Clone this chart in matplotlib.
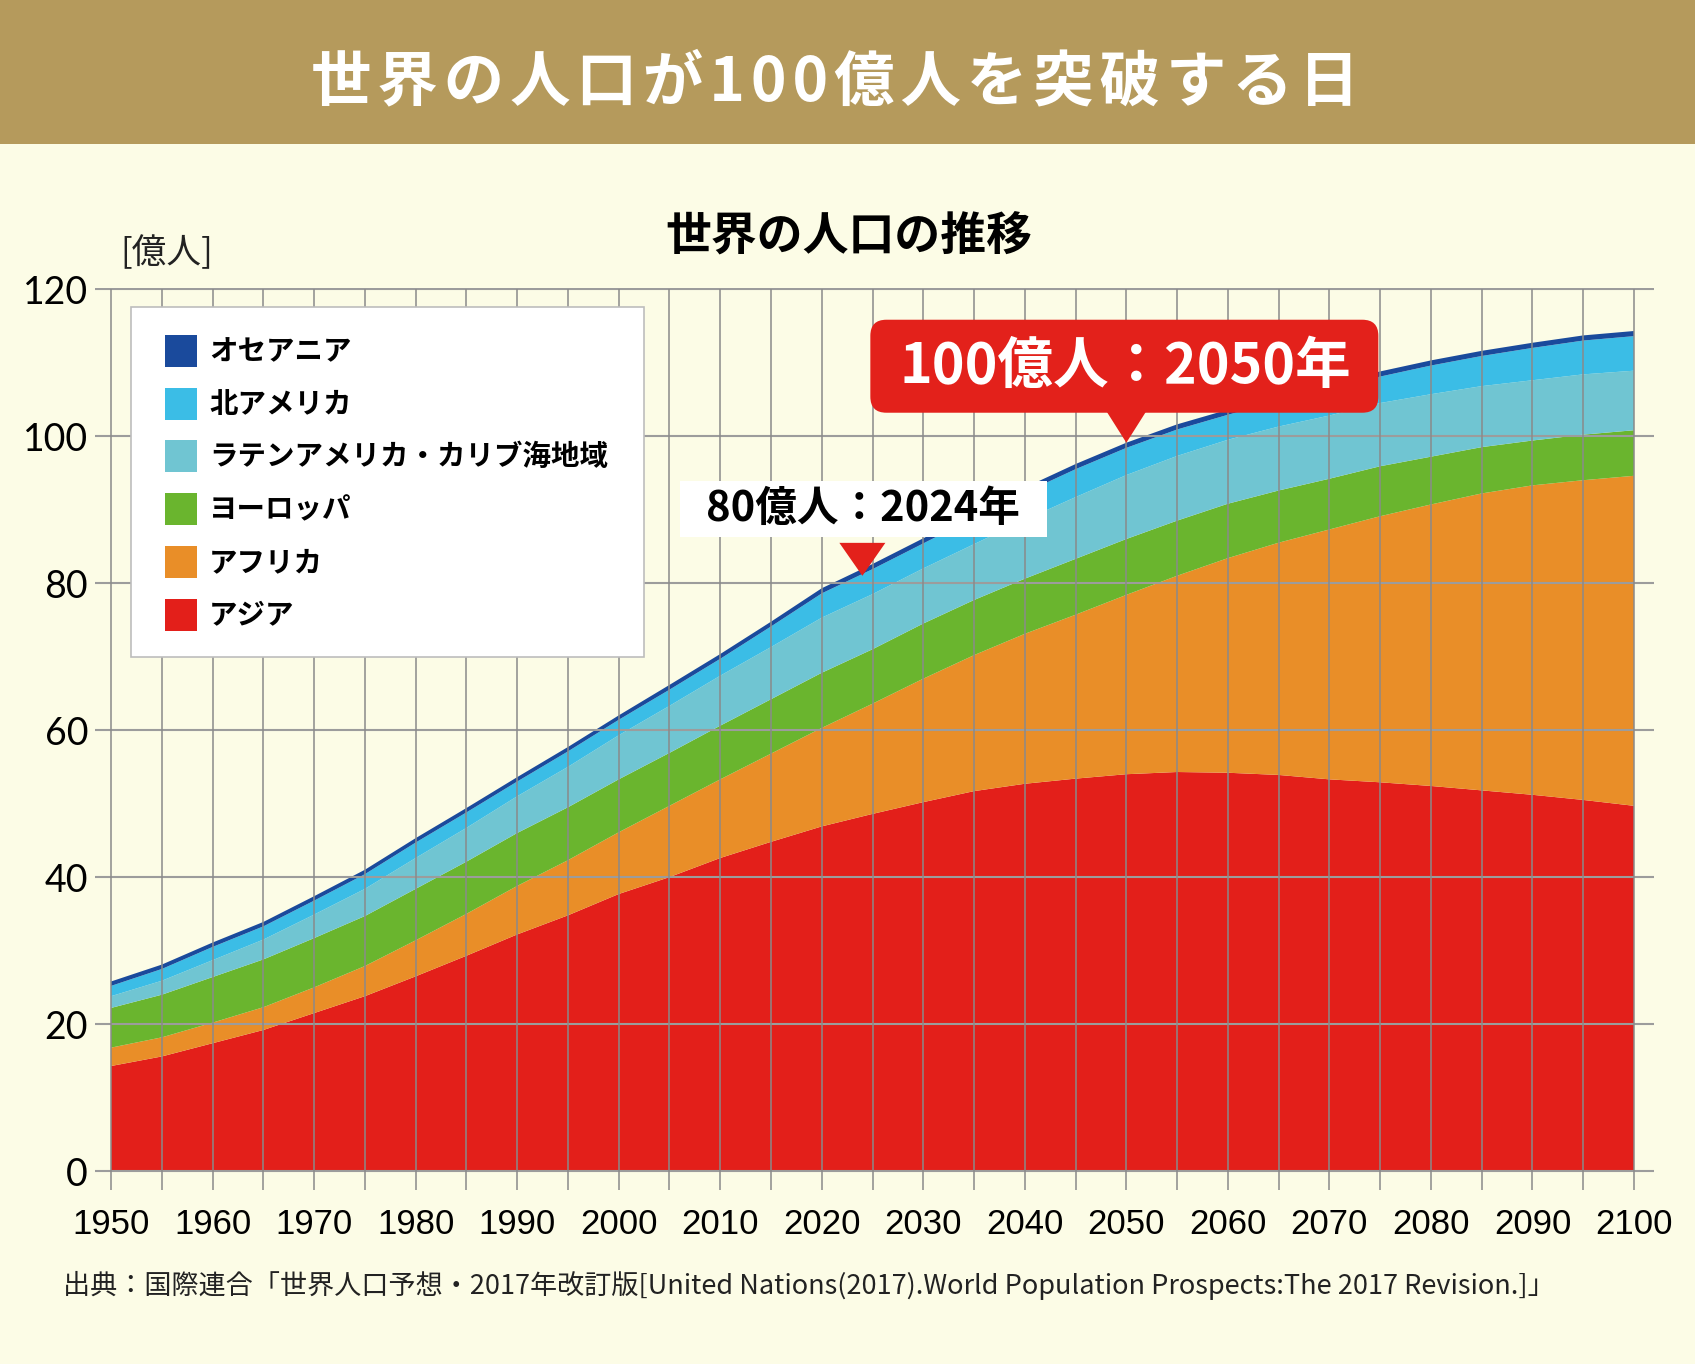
import numpy as np
import matplotlib
matplotlib.use("Agg")
import matplotlib.pyplot as plt
from matplotlib.patches import Rectangle, FancyBboxPatch, Polygon
from matplotlib.transforms import IdentityTransform

plt.rcParams["font.family"] = ["Noto Sans CJK JP", "DejaVu Sans"]

# population by region, 億人, every 5 years 1950-2100
years = np.arange(1950, 2101, 5)
asia = [14.3, 15.6, 17.4, 19.2, 21.5, 23.8, 26.5, 29.3, 32.2, 34.8,
        37.7, 40.0, 42.6, 44.8, 46.9, 48.6, 50.2, 51.7, 52.7, 53.4,
        54.0, 54.3, 54.2, 53.9, 53.3, 52.9, 52.4, 51.8, 51.2, 50.5, 49.7]
africa = [2.5, 2.6, 2.8, 3.1, 3.5, 4.1, 4.9, 5.7, 6.6, 7.5,
          8.4, 9.7, 10.7, 12.0, 13.4, 15.0, 16.8, 18.5, 20.4, 22.3,
          24.4, 26.7, 29.2, 31.6, 34.0, 36.2, 38.3, 40.4, 42.1, 43.5, 44.9]
europe = [5.4, 5.8, 6.2, 6.5, 6.7, 6.8, 7.0, 7.1, 7.2, 7.2,
          7.2, 7.2, 7.3, 7.4, 7.5, 7.4, 7.5, 7.5, 7.5, 7.6,
          7.6, 7.5, 7.4, 7.1, 6.9, 6.8, 6.5, 6.3, 6.1, 6.2, 6.2]
latin_america = [1.6, 1.9, 2.3, 2.7, 3.2, 3.7, 4.2, 4.6, 5.0, 5.5,
                 6.0, 6.4, 6.8, 7.1, 7.5, 7.5, 7.5, 7.6, 8.0, 8.4,
                 8.7, 8.8, 8.7, 8.7, 8.6, 8.6, 8.5, 8.3, 8.2, 8.2, 8.1]
north_america = [1.4, 1.6, 1.8, 1.8, 1.9, 2.0, 2.1, 2.1, 2.0, 2.1,
                 2.1, 2.2, 2.3, 2.8, 3.3, 3.4, 3.4, 3.6, 3.7, 3.8,
                 3.7, 3.6, 3.4, 3.5, 3.6, 3.6, 3.9, 4.1, 4.4, 4.6, 4.7]
oceania = [0.6, 0.6, 0.6, 0.6, 0.6, 0.6, 0.6, 0.6, 0.6, 0.6,
           0.6, 0.65, 0.65, 0.65, 0.7, 0.7, 0.7, 0.7, 0.7, 0.7,
           0.7, 0.7, 0.7, 0.7, 0.7, 0.7, 0.7, 0.7, 0.7, 0.7, 0.7]

regions = ["オセアニア", "北アメリカ", "ラテンアメリカ・カリブ海地域",
           "ヨーロッパ", "アフリカ", "アジア"]
colors = ["#1A4A9C", "#3BBDE6", "#70C5D2", "#6AB52E", "#E98E28", "#E31F1A"]
y_ticks = [0, 20, 40, 60, 80, 100, 120]
x_ticks = np.arange(1950, 2101, 10)
milestone_80 = (2024, "80億人：2024年")
milestone_100 = (2050, "100億人：2050年")
title = "世界の人口が100億人を突破する日"

W, H = 1695, 1364
BG = "#FCFCE6"
RED = "#E3211B"
ID = IdentityTransform()

fig = plt.figure(figsize=(W / 100, H / 100), dpi=100, facecolor=BG)

# header band + titles (hair spaces for the wide letter spacing)
fig.add_artist(Rectangle((0, H - 144), W, 144, transform=ID, fc="#B59A5C", ec="none", zorder=0))
fig.text(835, H - 83, "\u200a".join(title), transform=ID, color="white",
         fontsize=43.5, fontweight="bold", ha="center", va="center")
fig.text(849, H - 238, "世界の人口の推移", transform=ID, fontsize=33,
         fontweight="bold", ha="center", va="center")
fig.text(120, H - 254, "[億人]", transform=ID, fontsize=25, ha="left", va="center", color="#222222")

# plot area
ax = fig.add_axes([95 / W, (H - 1189.5) / H, 1559 / W, 901.5 / H])
ax.set_facecolor("none")
ax.set_xlim(1948.42, 2101.97)
ax.set_ylim(-2.5, 120.15)

ax.stackplot(years, asia, africa, europe, latin_america, north_america, oceania,
             colors=colors[::-1], lw=0, zorder=2)

ax.hlines(y_ticks, 1948.42, 2101.97, color="#9C9C9C", lw=1.5, zorder=3)
ax.vlines(np.arange(1950, 2101, 5), -2.5, 120, color="#8A8A8A", lw=1.1, zorder=3)

for s in ax.spines.values():
    s.set_visible(False)
ax.set_xticks(x_ticks)
ax.set_xticklabels([str(y) for y in x_ticks], fontsize=25,
                   family=["Liberation Sans", "DejaVu Sans"])
ax.set_yticks(y_ticks)
ax.set_yticklabels([str(v) for v in y_ticks], fontsize=27, family=["Lato", "DejaVu Sans"])
ax.tick_params(axis="x", length=0, pad=13)
ax.tick_params(axis="y", length=0, pad=5)

total = np.sum([asia, africa, europe, latin_america, north_america, oceania], axis=0)

# 80億人 callout
yr, label = milestone_80
x0, y0 = ax.transData.transform((yr, np.interp(yr, years, total)))
y0 -= 7
ax.add_patch(Polygon([(x0 - 23, y0 + 33), (x0 + 23, y0 + 33), (x0, y0)], closed=True,
                     fc=RED, ec="none", transform=ID, zorder=6, clip_on=False))
ax.add_patch(Rectangle((x0 - 182, y0 + 39), 367, 56, fc="white", ec="none",
                       transform=ID, zorder=6, clip_on=False))
ax.text(x0 + 1, y0 + 67, label, transform=ID, ha="center", va="center",
        fontsize=30, fontweight="bold", zorder=7)

# 100億人 callout
yr, label = milestone_100
x0, y0 = ax.transData.transform((yr, np.interp(yr, years, total)))
ax.add_patch(FancyBboxPatch((x0 - 242, y0 + 44), 480, 65,
                            boxstyle="round,pad=14,rounding_size=16",
                            fc=RED, ec="none", transform=ID, zorder=6, clip_on=False))
ax.add_patch(Polygon([(x0 - 21.5, y0 + 34), (x0 + 21.5, y0 + 34), (x0, y0)], closed=True,
                     fc=RED, ec="none", transform=ID, zorder=6, clip_on=False))
ax.text(x0 - 1, y0 + 76, label, transform=ID, ha="center", va="center",
        fontsize=40, fontweight="bold", color="white", zorder=7)

# legend
fig.add_artist(Rectangle((131, H - 657), 513, 350, transform=ID, fc="white",
                         ec="#BDBDBD", lw=1.2, zorder=2))
for i, (name, c) in enumerate(zip(regions, colors)):
    top = 335 + 52.7 * i
    fig.add_artist(Rectangle((165, H - top - 32), 31.5, 32, transform=ID,
                             fc=c, ec="none", zorder=3))
    fig.text(209, H - top - 17, name, transform=ID, fontsize=20.5, fontweight="bold",
             ha="left", va="center", zorder=3)

# source
fig.text(63, H - 1285, "出典：国際連合「世界人口予想・2017年改訂版[United Nations(2017).World "
         "Population Prospects:The 2017 Revision.]」", transform=ID, fontsize=19.5,
         ha="left", va="center", color="#222222")

fig.savefig("out.png", dpi=100, facecolor=BG)
